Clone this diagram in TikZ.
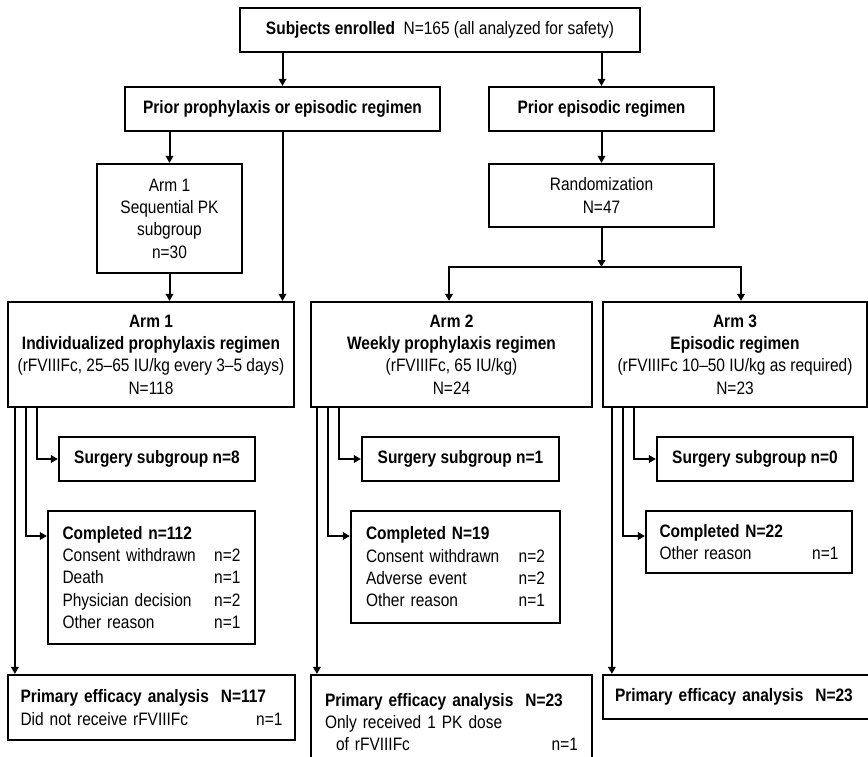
\documentclass[tikz,border=0pt]{standalone}
\usepackage{fontspec}
\setmainfont{Liberation Sans}[FakeStretch=0.86]
\usetikzlibrary{arrows.meta}
\begin{document}
\begin{tikzpicture}[x=1pt,y=-1pt,
  every node/.style={font=\fontsize{18}{22.3}\selectfont},
  box/.style={draw, line width=2.2pt, rectangle, inner sep=0pt, align=center},
  lbox/.style={draw, line width=2.2pt, rectangle, inner sep=0pt, align=left},
  conn/.style={line width=2pt},
  arr/.style={line width=2pt, -{Triangle[length=7pt,width=7.5pt]}},
  darr/.style={line width=2pt, {Triangle[length=7pt,width=7.5pt]}-{Triangle[length=7pt,width=7.5pt]}}]
\useasboundingbox (0,0) rectangle (868,756);
\fill[white] (0,0) rectangle (868,756);

% top level
\node[box, minimum width=400pt, minimum height=44pt] (top) at (440,30)
  {\textbf{Subjects enrolled}\ \ N=165 (all analyzed for safety)};
\node[box, minimum width=315pt, minimum height=44pt] (priorA) at (282.5,109)
  {\textbf{Prior prophylaxis or episodic regimen}};
\node[box, minimum width=225pt, minimum height=44pt] (priorB) at (601.5,109)
  {\textbf{Prior episodic regimen}};
\node[box, minimum width=145pt, minimum height=109pt] (seq) at (169.5,218.5)
  {Arm 1\\Sequential PK\\subgroup\\n=30};
\node[box, minimum width=225pt, minimum height=63pt] (rand) at (601.5,195.5)
  {Randomization\\N=47};

% arms
\node[box, minimum width=286pt, minimum height=105pt] (arm1) at (151,354.5)
  {\textbf{Arm 1}\\\textbf{Individualized prophylaxis regimen}\\(rFVIIIFc, 25--65 IU/kg every 3--5 days)\\N=118};
\node[box, minimum width=281pt, minimum height=105pt] (arm2) at (451.5,354.5)
  {\textbf{Arm 2}\\\textbf{Weekly prophylaxis regimen}\\(rFVIIIFc, 65 IU/kg)\\N=24};
\node[box, minimum width=264pt, minimum height=105pt] (arm3) at (735,354.5)
  {\textbf{Arm 3}\\\textbf{Episodic regimen}\\(rFVIIIFc 10--50 IU/kg as required)\\N=23};

% surgery
\node[box, minimum width=196pt, minimum height=44pt] (surg1) at (157,459)
  {\textbf{Surgery subgroup n=8}};
\node[box, minimum width=197pt, minimum height=44pt] (surg2) at (460.5,459)
  {\textbf{Surgery subgroup n=1}};
\node[box, minimum width=196pt, minimum height=44pt] (surg3) at (755,459)
  {\textbf{Surgery subgroup n=0}};

% completed
\node[lbox, minimum width=207pt, minimum height=133pt, text width=178pt] (comp1) at (151.5,577.5)
  {\textbf{Completed n=112}\\Consent withdrawn\hfill n=2\\Death\hfill n=1\\Physician decision\hfill n=2\\Other reason\hfill n=1};
\node[lbox, minimum width=209pt, minimum height=112pt, text width=179pt] (comp2) at (455.5,567)
  {\textbf{Completed N=19}\\Consent withdrawn\hfill n=2\\Adverse event\hfill n=2\\Other reason\hfill n=1};
\node[lbox, minimum width=206pt, minimum height=62pt, text width=179pt] (comp3) at (749,542)
  {\textbf{Completed N=22}\\Other reason\hfill n=1};

% primary efficacy
\node[lbox, minimum width=287pt, minimum height=65pt, text width=262pt] (prim1) at (151.5,707.5)
  {\textbf{Primary efficacy analysis\ \ N=117}\\Did not receive rFVIIIFc\hfill n=1};
\node[lbox, minimum width=281pt, minimum height=94pt, text width=253pt] (prim2) at (451.5,722)
  {\textbf{Primary efficacy analysis\ \ N=23}\\Only received 1 PK dose\\\hspace*{11pt}of rFVIIIFc\hfill n=1};
\node[lbox, minimum width=277pt, minimum height=44pt, text width=253pt] (prim3) at (741.5,697)
  {\textbf{Primary efficacy analysis\ \ N=23}};

% connectors top part
\draw[arr] (priorA.north |- top.south) -- (priorA.north);
\draw[arr] (priorB.north |- top.south) -- (priorB.north);
\draw[arr] (seq.north |- priorA.south) -- (seq.north);
\draw[arr] (priorA.south) -- (priorA.south |- arm1.north);
\draw[arr] (seq.south) -- (seq.south |- arm1.north);
\draw[arr] (priorB.south) -- (rand.north);
\coordinate (split) at (601.5,267);
\coordinate (sL) at (449,267);
\coordinate (sR) at (741,267);
\draw[arr] (rand.south) -- (split);
\draw[darr] (sL |- arm2.north) -- (sL) -- (sR) -- (sR |- arm3.north);

% arm 1 branches
\draw[arr] ([xshift=30pt]arm1.south west) |- (surg1.west);
\draw[arr] ([xshift=19pt]arm1.south west) |- ([yshift=41.5pt]comp1.west);
\draw[arr] ([xshift=8pt]arm1.south west) -- ([xshift=8pt]arm1.south west |- prim1.north);
% arm 2 branches
\draw[arr] ([xshift=29pt]arm2.south west) |- (surg2.west);
\draw[arr] ([xshift=18pt]arm2.south west) |- ([yshift=31pt]comp2.west);
\draw[arr] ([xshift=7pt]arm2.south west) -- ([xshift=7pt]arm2.south west |- prim2.north);
% arm 3 branches
\draw[arr] ([xshift=32pt]arm3.south west) |- (surg3.west);
\draw[arr] ([xshift=21pt]arm3.south west) |- ([yshift=6pt]comp3.west);
\draw[arr] ([xshift=10pt]arm3.south west) -- ([xshift=10pt]arm3.south west |- prim3.north);
\end{tikzpicture}
\end{document}
